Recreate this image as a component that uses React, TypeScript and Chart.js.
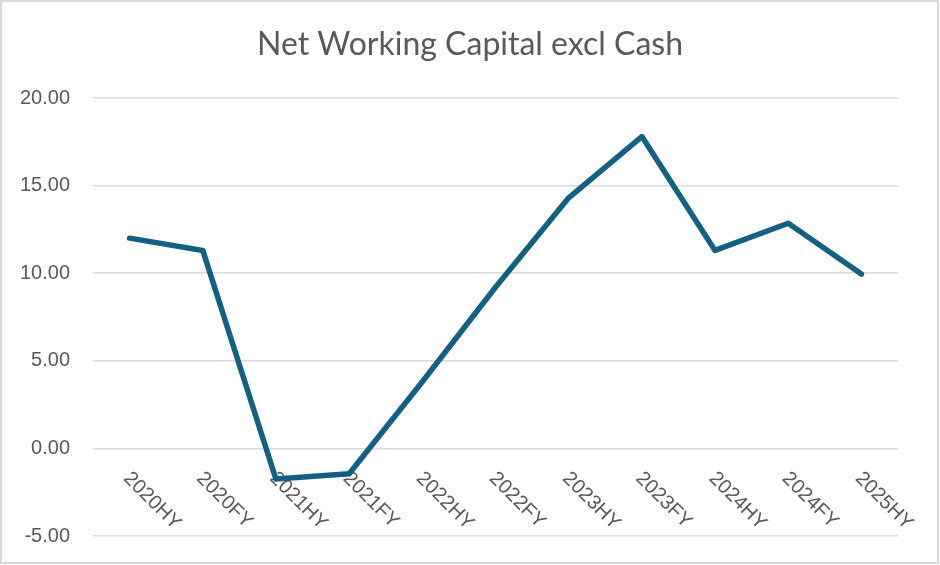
import React, { useEffect, useRef } from "react";
import { Chart, registerables } from "chart.js";

Chart.register(...registerables);

const TITLE = "Net Working Capital excl Cash";
const categories = [
  "2020HY", "2020FY", "2021HY", "2021FY", "2022HY", "2022FY",
  "2023HY", "2023FY", "2024HY", "2024FY", "2025HY",
];
const nwcValues = [12.0, 11.3, -1.75, -1.45, 3.8, 9.2, 14.3, 17.8, 11.3, 12.85, 9.95];
const yMin = -5;
const yMax = 20;
const yStep = 5;

const TEXT_COLOR = "#595959";
const GRID_COLOR = "#d9d9d9";
const LINE_COLOR = "#156082";

const categoryLabelsPlugin = {
  id: "categoryLabels",
  beforeDatasetsDraw(chart: any) {
    const { ctx, scales } = chart;
    const xs = scales.x;
    const ys = scales.y;
    const y0 = ys.getPixelForValue(0);
    ctx.save();
    ctx.fillStyle = TEXT_COLOR;
    ctx.font = "20px 'Liberation Sans', Arial, sans-serif";
    ctx.textAlign = "left";
    ctx.textBaseline = "middle";
    categories.forEach((lab, i) => {
      const x = xs.getPixelForValue(i);
      ctx.save();
      ctx.translate(x - 3, y0 + 27);
      ctx.rotate(Math.PI / 4);
      ctx.fillText(lab, 0, 0);
      ctx.restore();
    });
    ctx.restore();
  },
};

const titleAndFramePlugin = {
  id: "titleAndFrame",
  afterDraw(chart: any) {
    const { ctx, width, height } = chart;
    ctx.save();
    ctx.fillStyle = TEXT_COLOR;
    ctx.font = "32px Lato, 'Liberation Sans', sans-serif";
    ctx.textAlign = "center";
    ctx.textBaseline = "alphabetic";
    ctx.fillText(TITLE, width / 2, 55);
    ctx.strokeStyle = GRID_COLOR;
    ctx.lineWidth = 2;
    ctx.strokeRect(1, 1, width - 3, height - 3);
    ctx.restore();
  },
};

export default function App() {
  const ref = useRef<HTMLCanvasElement | null>(null);

  useEffect(() => {
    document.body.style.margin = "0";
    const canvas = ref.current;
    if (!canvas) return;
    const chart = new Chart(canvas, {
      type: "line",
      data: {
        labels: categories,
        datasets: [
          {
            label: "NWC",
            data: nwcValues,
            borderColor: LINE_COLOR,
            borderWidth: 5.5,
            pointRadius: 0,
            borderJoinStyle: "round",
            borderCapStyle: "round",
            tension: 0,
            fill: false,
          },
        ],
      },
      options: {
        responsive: false,
        animation: false,
        layout: { padding: { left: 0, right: 42, top: 98, bottom: 29 } },
        plugins: {
          legend: { display: false },
          tooltip: { enabled: false },
          title: { display: false },
        },
        scales: {
          x: {
            type: "category",
            display: false,
            offset: true,
          },
          y: {
            min: yMin,
            max: yMax,
            afterFit(scale: any) {
              scale.width = 93;
            },
            border: { display: false },
            grid: {
              color: GRID_COLOR,
              lineWidth: 1.5,
              drawTicks: true,
              tickLength: 23,
              tickColor: "rgba(0,0,0,0)",
            },
            ticks: {
              stepSize: yStep,
              padding: 0,
              color: TEXT_COLOR,
              font: { family: "'Liberation Sans', Arial, sans-serif", size: 20 },
              callback: (v: any) => Number(v).toFixed(2),
            },
          },
        },
      },
      plugins: [categoryLabelsPlugin, titleAndFramePlugin],
    });
    return () => chart.destroy();
  }, []);

  return (
    <div style={{ width: 940, height: 565, background: "#fff" }}>
      <canvas ref={ref} width={940} height={565} style={{ display: "block" }} />
    </div>
  );
}
